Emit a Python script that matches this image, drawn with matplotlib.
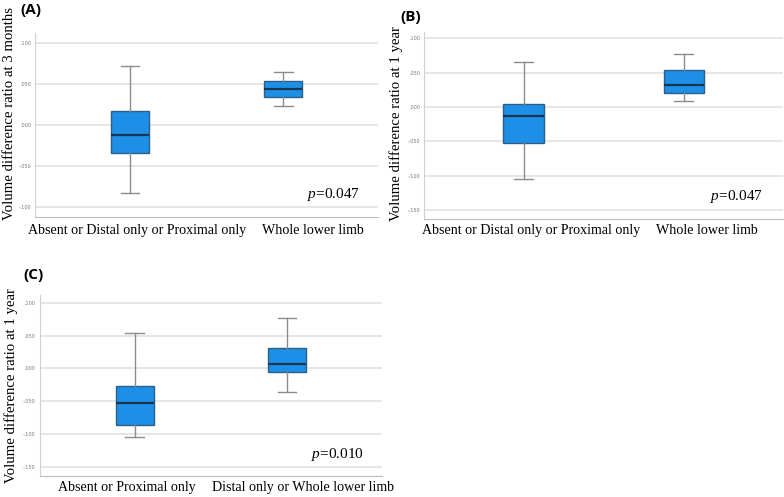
import matplotlib.pyplot as plt

plt.rcParams['mathtext.fontset'] = 'custom'
plt.rcParams['mathtext.it'] = 'Liberation Serif:italic'
plt.rcParams['mathtext.rm'] = 'Liberation Serif'

# box stats: whisker low, Q1, median, Q3, whisker high
a_groups = ['Absent or Distal only or Proximal only', 'Whole lower limb']
a_low = [-0.083, 0.023]
a_q1 = [-0.034, 0.034]
a_med = [-0.012, 0.044]
a_q3 = [0.017, 0.054]
a_high = [0.072, 0.065]

b_groups = ['Absent or Distal only or Proximal only', 'Whole lower limb']
b_low = [-0.105, 0.009]
b_q1 = [-0.053, 0.020]
b_med = [-0.013, 0.032]
b_q3 = [0.004, 0.054]
b_high = [0.066, 0.077]

c_groups = ['Absent or Proximal only', 'Distal only or Whole lower limb']
c_low = [-0.104, -0.036]
c_q1 = [-0.086, -0.006]
c_med = [-0.053, 0.007]
c_q3 = [-0.026, 0.032]
c_high = [0.054, 0.077]

a_ticks = [0.10, 0.05, 0.0, -0.05, -0.10]
bc_ticks = [0.10, 0.05, 0.0, -0.05, -0.10, -0.15]


def tick_txt(v):
    s = f'{abs(v):.3f}'.replace('0.', '.', 1)
    return '-' + s if v < 0 else s


def panel(ax, groups, low, q1, med, q3, high, ticks, ylim, ptxt, lab_x, lab_y):
    stats = []
    for i in range(len(groups)):
        stats.append(dict(whislo=low[i], q1=q1[i], med=med[i], q3=q3[i],
                          whishi=high[i], fliers=[]))
    ax.bxp(stats, positions=[0, 1], widths=0.25, patch_artist=True,
           showfliers=False,
           boxprops=dict(facecolor='#1e8fe6', edgecolor='#2b5f88', linewidth=1),
           medianprops=dict(color='#1a3550', linewidth=1.6),
           whiskerprops=dict(color='#8c8c8c', linewidth=1),
           capprops=dict(color='#8c8c8c', linewidth=1),
           capwidths=0.12)
    ax.set_xlim(-0.62, 1.62)
    ax.set_ylim(*ylim)
    ax.set_yticks(ticks)
    ax.set_yticklabels([tick_txt(t) for t in ticks], fontsize=3.5, color='#777777')
    ax.tick_params(axis='y', length=0, pad=3)
    ax.set_xticks([])
    for g, fx in zip(groups, lab_x):
        ax.text(fx, lab_y, g, transform=ax.transAxes, ha='center', va='center',
                family='Liberation Serif', fontsize=10.1)
    ax.yaxis.grid(True, color='#e2e2e2', linewidth=1.2)
    ax.set_axisbelow(True)
    for s in ['top', 'right']:
        ax.spines[s].set_visible(False)
    ax.spines['left'].set_color('#d0d0d0')
    ax.spines['bottom'].set_color('#bbbbbb')
    ax.text(0.87, 0.12, ptxt, transform=ax.transAxes, ha='center', va='center',
            family='Liberation Serif', fontsize=11)


fig = plt.figure(figsize=(7.84, 4.97), dpi=100)
ax1 = fig.add_axes([0.045, 0.5634, 0.4375, 0.370])
ax2 = fig.add_axes([0.541, 0.5594, 0.458, 0.376])
ax3 = fig.add_axes([0.051, 0.0423, 0.436, 0.364])

panel(ax1, a_groups, a_low, a_q1, a_med, a_q3, a_high, a_ticks, (-0.112, 0.112),
      '$p$=0.047', [0.297, 0.808], -0.076)
panel(ax2, b_groups, b_low, b_q1, b_med, b_q3, b_high, bc_ticks, (-0.163, 0.109),
      '$p$=0.047', [0.298, 0.788], -0.06)
panel(ax3, c_groups, c_low, c_q1, c_med, c_q3, c_high, bc_ticks, (-0.164, 0.112),
      '$p$=0.010', [0.254, 0.77], -0.066)

# y titles and panel tags, placed in figure pixels
W, H = 784, 497
ylabels = ['Volume difference ratio at 3 months', 'Volume difference ratio at 1 year',
           'Volume difference ratio at 1 year']
ylab_xy = [(10, 113), (396, 124), (11, 386)]
for t, (x, y) in zip(ylabels, ylab_xy):
    fig.text(x / W, 1 - y / H, t, rotation=90, ha='center', va='center',
             family='Liberation Serif', fontsize=10.6)

tags = ['(A)', '(B)', '(C)']
tag_xy = [(20, 10), (400, 17), (23, 275)]
for t, (x, y) in zip(tags, tag_xy):
    fig.text(x / W, 1 - y / H, t, ha='left', va='center',
             family='Open Sans', fontweight='bold', fontsize=11)

fig.savefig('out.png', dpi=100)
